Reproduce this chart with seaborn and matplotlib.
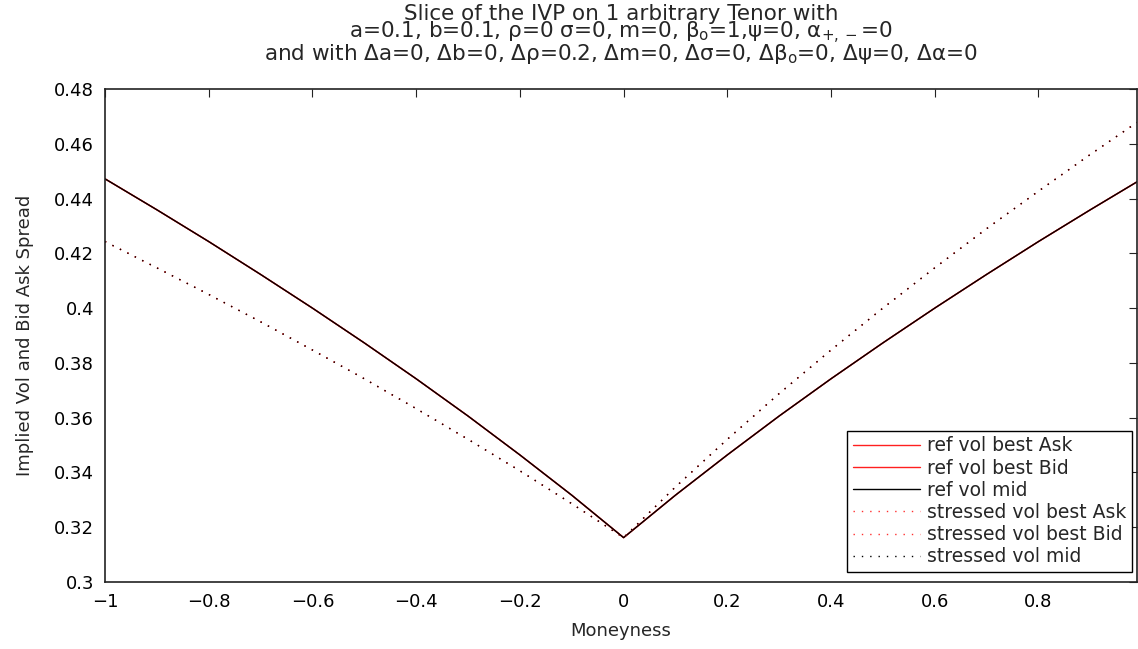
import matplotlib
matplotlib.use("Agg")
import matplotlib.pyplot as plt
import seaborn as sns
import pandas as pd
from matplotlib.ticker import FixedLocator, FuncFormatter

# ---------------- data ----------------
moneyness = [-1.0, -0.9, -0.8, -0.7, -0.6, -0.5, -0.4, -0.3, -0.2, -0.1, 0.0,
             0.1, 0.2, 0.3, 0.4, 0.5, 0.6, 0.7, 0.8, 0.9, 0.99]

ref_vol = [0.4472, 0.4359, 0.4243, 0.4123, 0.4000, 0.3873, 0.3742, 0.3606, 0.3464, 0.3317, 0.3162,
           0.3317, 0.3464, 0.3606, 0.3742, 0.3873, 0.4000, 0.4123, 0.4243, 0.4359, 0.4461]

stressed_vol = [0.4243, 0.4147, 0.4050, 0.3950, 0.3847, 0.3742, 0.3633, 0.3521, 0.3406, 0.3286, 0.3162,
                0.3347, 0.3521, 0.3688, 0.3847, 0.4000, 0.4147, 0.4290, 0.4427, 0.4561, 0.4678]

ref_ask = ref_vol
ref_bid = ref_vol
ref_mid = ref_vol
stressed_ask = stressed_vol
stressed_bid = stressed_vol
stressed_mid = stressed_vol

series_labels = ["ref vol best Ask", "ref vol best Bid", "ref vol mid",
                 "stressed vol best Ask", "stressed vol best Bid", "stressed vol mid"]

x_ticks = [-1, -0.8, -0.6, -0.4, -0.2, 0, 0.2, 0.4, 0.6, 0.8]
y_ticks = [0.30, 0.32, 0.34, 0.36, 0.38, 0.40, 0.42, 0.44, 0.46, 0.48]

title_lines = [
    "Slice of the IVP on 1 arbitrary Tenor with",
    r"a=0.1, b=0.1, ρ=0 σ=0, m=0, β$_\mathrm{o}$=1,ψ=0, α$_{+,-}$=0",
    r"and with Δa=0, Δb=0, Δρ=0.2, Δm=0, Δσ=0, Δβ$_\mathrm{o}$=0, Δψ=0, Δα=0",
]

# ---------------- style ----------------
sns.set_style("white")
plt.rcParams["font.family"] = ["DejaVu Sans"]
plt.rcParams["mathtext.fontset"] = "dejavusans"
plt.rcParams["font.size"] = 13

fig = plt.figure(figsize=(11.38, 6.49), dpi=100)
ax = fig.add_axes([105 / 1138, 1 - 582 / 649, (1137 - 105) / 1138, (582 - 89) / 649])

series = [
    (ref_ask, "#ff2020", "-"),
    (ref_bid, "#ff2020", "-"),
    (ref_mid, "#000000", "-"),
    (stressed_ask, "#ff3030", (0, (1, 5))),
    (stressed_bid, "#ff3030", (0, (1, 5))),
    (stressed_mid, "#000000", (0, (1, 5))),
]

for (vals, col, ls), lab in zip(series, series_labels):
    df = pd.DataFrame({"Moneyness": moneyness, "vol": vals})
    sns.lineplot(data=df, x="Moneyness", y="vol", ax=ax, color=col,
                 linestyle=ls, linewidth=1.0, label=lab, sort=False)

ax.set_xlim(-1, 0.99)
ax.set_ylim(0.3, 0.48)
ax.xaxis.set_major_locator(FixedLocator(x_ticks))
ax.yaxis.set_major_locator(FixedLocator(y_ticks))
fmt = FuncFormatter(lambda v, p: ("%g" % round(v, 4)).replace("-", "\u2212"))
ax.xaxis.set_major_formatter(fmt)
ax.yaxis.set_major_formatter(fmt)
ax.tick_params(direction="in", length=6, width=0.8, top=True, right=True,
               labelsize=13, colors="#222222", labelcolor="black", pad=8)
for sp in ax.spines.values():
    sp.set_visible(True)
    sp.set_color("#222222")
    sp.set_linewidth(1.2)

ax.set_xlabel("Moneyness", fontsize=13, labelpad=8)
ax.set_ylabel("Implied Vol and Bid Ask Spread", fontsize=13, labelpad=14)

fig.text(0.5457, 1 - 35 / 649, "\n".join(title_lines), ha="center", va="center",
         multialignment="center", fontsize=15.5, linespacing=0.8)

leg = ax.legend(loc="lower right", bbox_to_anchor=(1132 / 1138, 1 - 572 / 649),
                bbox_transform=fig.transFigure, frameon=True, fancybox=False,
                framealpha=1, edgecolor="black", fontsize=13.5,
                handlelength=3.6, handletextpad=0.35, labelspacing=0.17,
                borderpad=0.3, borderaxespad=0)
leg.get_frame().set_linewidth(1.0)

fig.savefig("out.png", dpi=100)
